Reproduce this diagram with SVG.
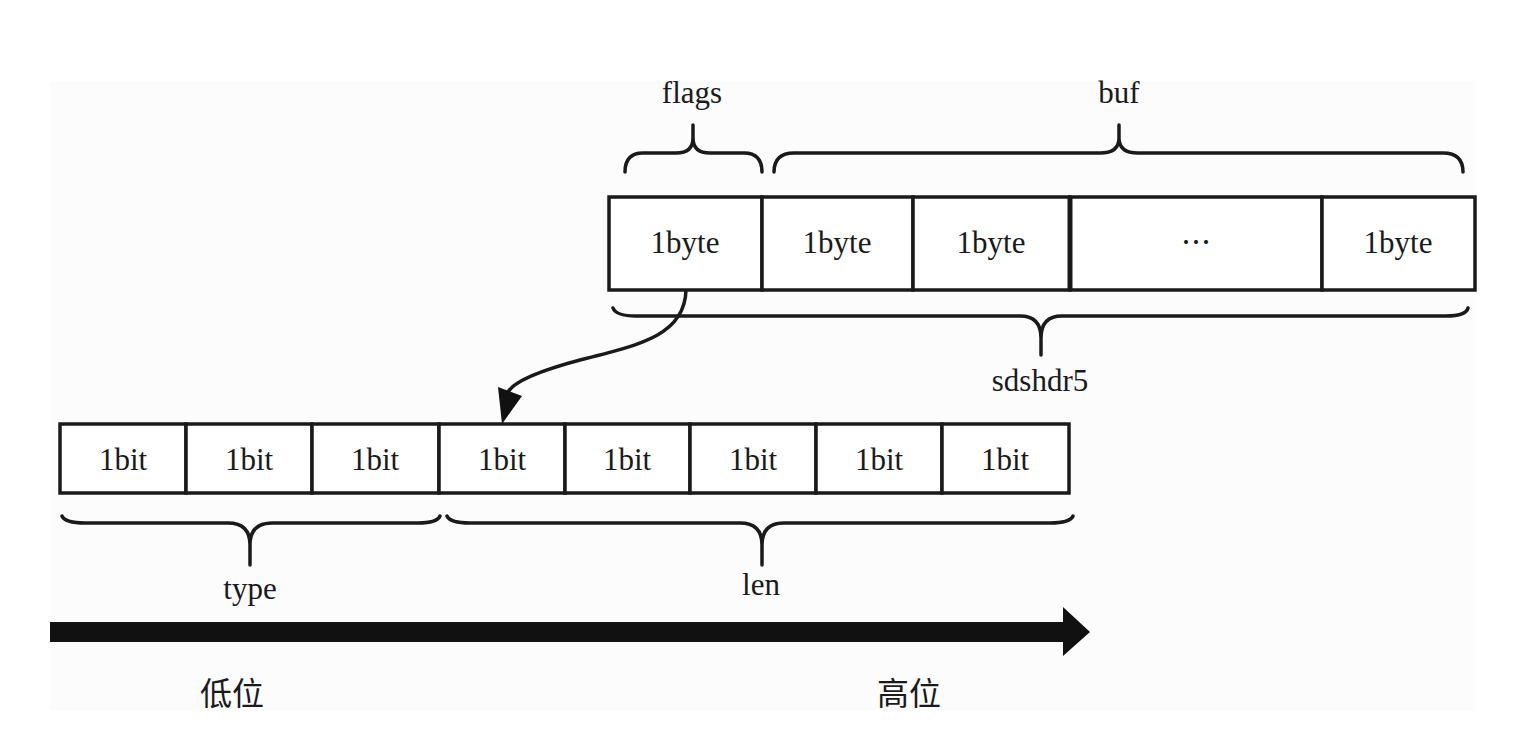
<svg xmlns="http://www.w3.org/2000/svg" width="1536" height="730" viewBox="0 0 1536 730">
<defs>
<style>
.cell{fill:#ffffff;stroke:#1a1a1a;stroke-width:3.5}
.t{font-family:"Liberation Serif","Times New Roman",serif;font-size:31px;fill:#1a1a1a;text-anchor:middle}
.cjk{font-family:"Noto Sans CJK SC","Noto Sans CJK JP",sans-serif;font-size:32px;fill:#1a1a1a;text-anchor:middle}
.brace{fill:none;stroke:#1a1a1a;stroke-width:3.5;stroke-linecap:round;stroke-linejoin:round}
.link{fill:none;stroke:#1a1a1a;stroke-width:3.5}
</style>
</defs>
<rect x="0" y="0" width="1536" height="730" fill="#ffffff"/>
<rect x="50" y="81" width="1425" height="630" fill="#fcfcfc"/>

<g id="sdshdr5">
  <g id="byte-flags"><rect class="cell" x="609" y="197" width="153" height="93"/><text class="t" x="685" y="253">1byte</text></g>
  <g id="byte-buf1"><rect class="cell" x="762" y="197" width="151" height="93"/><text class="t" x="837" y="253">1byte</text></g>
  <g id="byte-buf2"><rect class="cell" x="913" y="197" width="157" height="93"/><text class="t" x="991" y="253">1byte</text></g>
  <g id="byte-more"><rect class="cell" x="1070" y="197" width="252" height="93"/><line x1="1070" y1="197" x2="1070" y2="290" stroke="#1a1a1a" stroke-width="5"/><text class="cjk" x="1196" y="253" style="font-size:30px">…</text></g>
  <g id="byte-last"><rect class="cell" x="1322" y="197" width="153" height="93"/><text class="t" x="1398" y="253">1byte</text></g>
</g>

<g id="bits">
  <g id="bit0"><rect class="cell" x="60" y="424" width="126" height="69"/><text class="t" x="123" y="470">1bit</text></g>
  <g id="bit1"><rect class="cell" x="186" y="424" width="126" height="69"/><text class="t" x="249" y="470">1bit</text></g>
  <g id="bit2"><rect class="cell" x="312" y="424" width="127" height="69"/><text class="t" x="375" y="470">1bit</text></g>
  <g id="bit3"><rect class="cell" x="439" y="424" width="126" height="69"/><text class="t" x="502" y="470">1bit</text></g>
  <g id="bit4"><rect class="cell" x="565" y="424" width="125" height="69"/><text class="t" x="627" y="470">1bit</text></g>
  <g id="bit5"><rect class="cell" x="690" y="424" width="126" height="69"/><text class="t" x="753" y="470">1bit</text></g>
  <g id="bit6"><rect class="cell" x="816" y="424" width="126" height="69"/><text class="t" x="879" y="470">1bit</text></g>
  <g id="bit7"><rect class="cell" x="942" y="424" width="127" height="69"/><text class="t" x="1005" y="470">1bit</text></g>
</g>

<g id="brace-flags">
  <path class="brace" d="M625,172 Q625,153 643,153 L676,153 Q693,153 693,138 L693,125 M693,138 Q693,153 710,153 L744,153 Q762,153 762,172"/>
  <text class="t" x="692" y="103">flags</text>
</g>
<g id="brace-buf">
  <path class="brace" d="M774,172 Q774,153 794,153 L1100,153 Q1119,153 1119,138 L1119,125 M1119,138 Q1119,153 1138,153 L1443,153 Q1463,153 1463,172"/>
  <text class="t" x="1119" y="103">buf</text>
</g>
<g id="brace-sdshdr5">
  <path class="brace" d="M613,308 Q616,316 636,316 L1020,316 Q1041,316 1041,338 L1041,355 M1041,338 Q1041,316 1062,316 L1446,316 Q1466,316 1468,308"/>
  <text class="t" x="1040" y="391">sdshdr5</text>
</g>
<g id="brace-type">
  <path class="brace" d="M62,516 Q65,523 85,523 L228,523 Q250,523 250,545 L250,565 M250,545 Q250,523 272,523 L418,523 Q437,523 440,516"/>
  <text class="t" x="250" y="599">type</text>
</g>
<g id="brace-len">
  <path class="brace" d="M447,516 Q450,523 470,523 L740,523 Q762,523 762,545 L762,565 M762,545 Q762,523 784,523 L1050,523 Q1070,523 1073,516"/>
  <text class="t" x="761" y="595">len</text>
</g>

<g id="axis">
  <rect x="50" y="622" width="1015" height="20" fill="#111111"/>
  <polygon points="1063,607 1090,632 1063,656" fill="#111111"/>
  <text class="cjk" x="232" y="705">低位</text>
  <text class="cjk" x="909" y="705">高位</text>
</g>

<g id="connectors">
  <path class="link" d="M686,290 C685,335 640,345 580,360 C535,372 513,383 508,392"/>
  <polygon points="498,387 522,396 502,424" fill="#111111"/>
</g>
</svg>
